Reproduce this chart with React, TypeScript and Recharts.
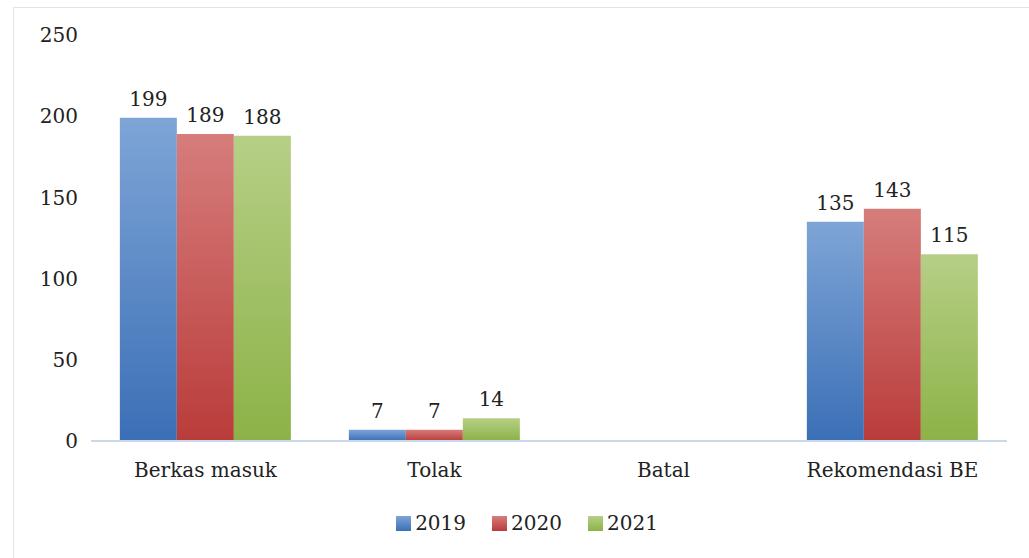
import React from 'react'
import { BarChart, Bar, XAxis, YAxis, LabelList } from 'recharts'

const categories = ['Berkas masuk', 'Tolak', 'Batal', 'Rekomendasi BE']
const values2019 = [199, 7, null, 135]
const values2020 = [189, 7, null, 143]
const values2021 = [188, 14, null, 115]
const yTicks = [0, 50, 100, 150, 200, 250]

const data = categories.map((name, i) => ({
    name,
    y2019: values2019[i],
    y2020: values2020[i],
    y2021: values2021[i],
}))

const series = [
    { key: 'y2019', label: '2019', top: '#7ea5d6', bottom: '#3b6fb6' },
    { key: 'y2020', label: '2020', top: '#d67d7c', bottom: '#b93c3a' },
    { key: 'y2021', label: '2021', top: '#b6cf86', bottom: '#8cb247' },
]

const font = '"DejaVu Serif", serif'

const LegendRow = () => (
    <div style={{ position: 'absolute', left: 0, top: 503, width: '100%', display: 'flex', justifyContent: 'center', fontFamily: font, fontSize: 20, color: '#222' }}>
        <div style={{ display: 'flex', alignItems: 'center', marginRight: 2 }}>
            {series.map((s, i) => (
                <div key={s.key} style={{ display: 'flex', alignItems: 'center', marginRight: i < series.length - 1 ? 26 : 0 }}>
                    <span style={{ width: 15, height: 15, display: 'inline-block', marginRight: 4, background: `linear-gradient(${s.top}, ${s.bottom})` }}></span>
                    <span>{s.label}</span>
                </div>
            ))}
        </div>
    </div>
)

const App = () => {
    return (
        <div style={{ position: 'absolute', left: 13, top: 7, width: 1030, height: 560, border: '1px solid #dde5f0', boxSizing: 'border-box', background: '#fff' }}>
            <BarChart width={1015} height={550} data={data} margin={{ top: 27, right: 22, left: 0, bottom: 87 }} barCategoryGap="12.6%" barGap={0}>
                <defs>
                    {series.map((s) => (
                        <linearGradient key={s.key} id={'g' + s.key} x1="0" y1="0" x2="0" y2="1">
                            <stop offset="0%" stopColor={s.top} />
                            <stop offset="100%" stopColor={s.bottom} />
                        </linearGradient>
                    ))}
                </defs>
                <XAxis dataKey="name" tickLine={false} tickSize={0} tickMargin={22} axisLine={{ stroke: '#cad8ee', strokeWidth: 2 }} tick={{ fill: '#222', fontSize: 20, fontFamily: font }} interval={0} />
                <YAxis domain={[0, 250]} ticks={yTicks} width={77} axisLine={false} tickLine={false} tickSize={0} tickMargin={13} tick={{ fill: '#222', fontSize: 20, fontFamily: font }} />
                {series.map((s) => (
                    <Bar key={s.key} dataKey={s.key} fill={`url(#g${s.key})`} isAnimationActive={false}>
                        <LabelList dataKey={s.key} position="top" offset={12} style={{ fill: '#222', fontSize: 20, fontFamily: font }} />
                    </Bar>
                ))}
            </BarChart>
            <LegendRow />
        </div>
    )
}

export default App
